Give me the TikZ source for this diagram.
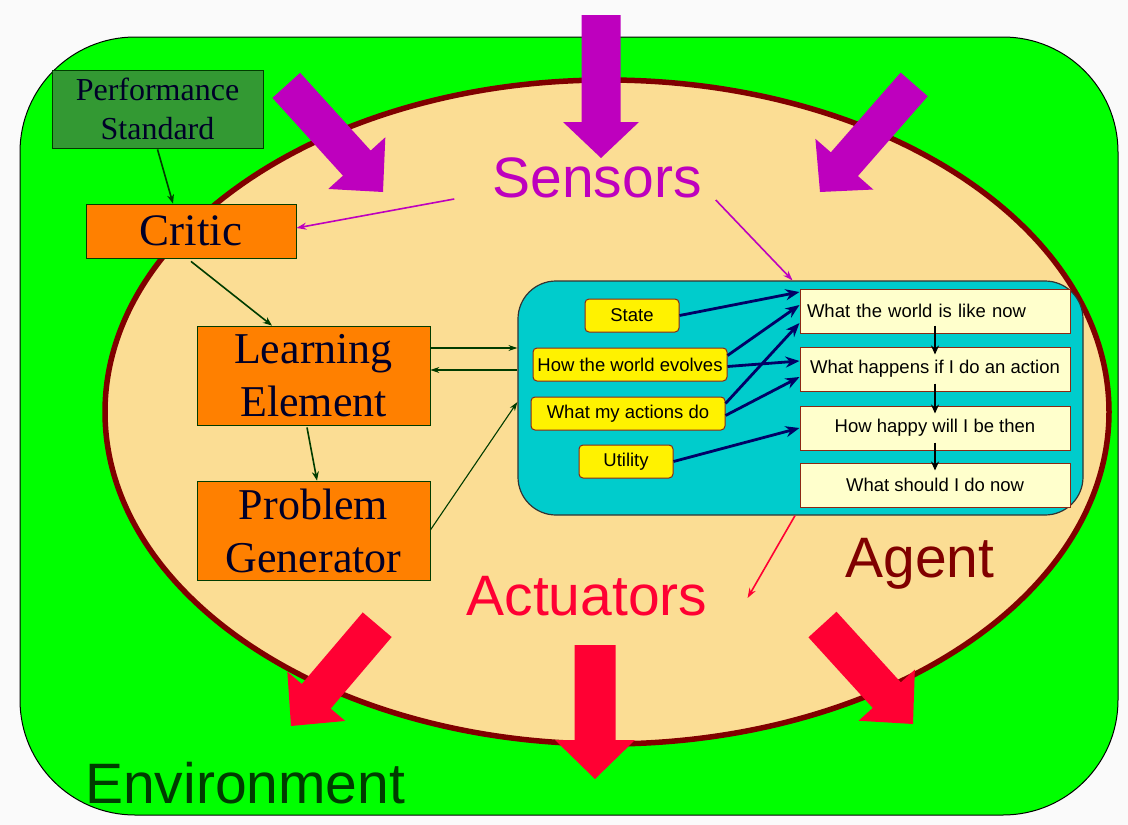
\documentclass[tikz,border=0pt]{standalone}
\usepackage{fontspec}
\setmainfont{Liberation Serif}
\setsansfont{Liberation Sans}
\usetikzlibrary{arrows.meta,calc}

\definecolor{envgreen}{RGB}{0,255,0}
\definecolor{agentfill}{RGB}{251,221,148}
\definecolor{agentrim}{RGB}{128,0,0}
\definecolor{sensmag}{RGB}{190,0,190}
\definecolor{actred}{RGB}{255,0,51}
\definecolor{perfgreen}{RGB}{51,153,51}
\definecolor{learnorange}{RGB}{255,128,0}
\definecolor{cyanpanel}{RGB}{0,204,204}
\definecolor{paleyellow}{RGB}{255,255,204}
\definecolor{inkblue}{RGB}{0,0,102}
\definecolor{inknavy}{RGB}{0,0,40}
\definecolor{darkgreen}{RGB}{0,60,0}
\definecolor{boxrim}{RGB}{140,40,20}
\definecolor{pagebg}{RGB}{250,250,250}

% block arrow: colour, tip, rotation, total length, half shaft width, half head width, head length
\newcommand\fatarrow[7]{%
  \fill[#1,shift={#2},rotate=#3] (0,0) -- (-#7,#6) -- (-#7,#5) -- (-#4,#5)
    -- (-#4,-#5) -- (-#7,-#5) -- (-#7,-#6) -- cycle;}

\tikzset{
  serifbox/.style={draw=darkgreen, line width=0.8pt, text=inknavy, align=center, inner sep=0pt},
  orangebox/.style={serifbox, fill=learnorange, minimum width=233pt, minimum height=99pt,
    font=\fontsize{44}{53}\selectfont},
  leftbox/.style={draw=boxrim, line width=1pt, fill=yellow, rounded corners=4pt,
    minimum height=33pt, inner sep=0pt, font=\sffamily\fontsize{18.5}{20}\selectfont},
  rightbox/.style={draw=boxrim, line width=1pt, fill=paleyellow, minimum width=270pt,
    minimum height=44pt, inner sep=0pt, font=\sffamily\fontsize{18.5}{20}\selectfont},
  greenlink/.style={draw=darkgreen, line width=1.6pt, -{Stealth[length=9pt,width=7pt]}},
  thinlink/.style={draw=darkgreen, line width=1.1pt, -{Stealth[length=9pt,width=6pt]}},
  navylink/.style={draw=inkblue, line width=2.8pt, -{Stealth[length=14pt,width=11pt]}},
  blacklink/.style={draw=black, line width=2.4pt, -{Stealth[length=9pt,width=8pt]}},
  biglabel/.style={font=\sffamily\fontsize{57}{60}\selectfont, inner sep=0pt},
}

\begin{document}
\begin{tikzpicture}[x=1pt,y=-1pt]
  % page
  \fill[pagebg] (0,0) rectangle (1128,825);
  \useasboundingbox (0,0) rectangle (1128,825);

  % environment and agent
  \filldraw[fill=envgreen, draw=black, line width=1pt, rounded corners=115pt]
    (20,37) rectangle (1118,815);
  \filldraw[fill=agentfill, draw=agentrim, line width=5.5pt] (607,412) ellipse [x radius=502, y radius=332];

  % percepts coming in
  \fatarrow{sensmag}{(601,158)}{-90}{143}{19.5}{38}{36}
  \fatarrow{sensmag}{(383,192)}{-47.8}{144}{18.7}{38.5}{39}
  \fatarrow{sensmag}{(820,192)}{-131.2}{143}{18}{38.5}{37}

  % actions going out
  \fatarrow{actred}{(291,726)}{-130.4}{133}{19}{38}{39}
  \fatarrow{actred}{(913,724)}{-47.7}{134.5}{19}{38}{39}
  \fatarrow{actred}{(595,779)}{-90}{134}{20.5}{40}{39}

  % labels
  \node[biglabel, text=sensmag] (sensors) at (597,178) {Sensors};
  \node[biglabel, text=actred] (actuators) at (587,596) {Actuators};
  \node[biglabel, text=agentrim] (agent) at (920,564) {Agent};
  \node[biglabel, text=darkgreen, anchor=base west] (env) at (85,803) {Environment};

  % learning components
  \node[serifbox, fill=perfgreen, minimum width=211pt, minimum height=78pt,
        font=\fontsize{32}{39}\selectfont] (perf) at (157.5,109) {Performance\\Standard};
  \node[serifbox, fill=learnorange, minimum width=210pt, minimum height=54pt,
        font=\fontsize{45}{50}\selectfont] (critic) at (191,231) {Critic};
  \node[orangebox] (learn) at (313.5,375.5) {Learning\\Element};
  \node[orangebox] (prob) at (313.5,530.5) {Problem\\Generator};

  % performance element panel
  \node[draw=black!80, line width=1.2pt, fill=cyanpanel, rounded corners=38pt,
        minimum width=565pt, minimum height=234pt] (panel) at (800.5,398) {};

  \node[leftbox, minimum width=94pt] (state) at (632,315.5) {State};
  \node[leftbox, minimum width=194pt] (evolve) at (630,364.5) {How the world evolves};
  \node[leftbox, minimum width=194pt] (acts) at (628,413.5) {What my actions do};
  \node[leftbox, minimum width=94pt] (utility) at (626,461.5) {Utility};

  \node[rightbox, text width=256pt, align=left] (now) at (935,311) {What the world is like now};
  \node[rightbox] (happens) at (935,369) {What happens if I do an action};
  \node[rightbox] (happy) at (935,428) {How happy will I be then};
  \node[rightbox] (should) at (935,485) {What should I do now};

  % model links
  \draw[navylink] (state.east) -- ([yshift=19pt]now.west);
  \draw[navylink] ([yshift=9pt]evolve.east) -- ([yshift=6pt]now.west);
  \draw[navylink] ([yshift=-2pt]evolve.east) -- ([yshift=8pt]happens.west);
  \draw[navylink] ([yshift=10pt]acts.east) -- ([yshift=-12pt]now.west);
  \draw[navylink] ([yshift=-2pt]acts.east) -- ([yshift=-8pt]happens.west);
  \draw[navylink] (utility.east) -- (happy.west);

  \draw[blacklink] ([yshift=8pt]now.south) -- ([yshift=-8pt]happens.north);
  \draw[blacklink] ([yshift=8pt]happens.south) -- ([yshift=-8pt]happy.north);
  \draw[blacklink] ([yshift=8pt]happy.south) -- ([yshift=-8pt]should.north);

  % learning links
  \draw[greenlink] ([yshift=-1pt]perf.south) -- ([xshift=-18pt]critic.north);
  \draw[greenlink] ([yshift=-3pt]critic.south) -- ([xshift=-41.5pt]learn.north);
  \draw[greenlink] ([xshift=-6.5pt,yshift=-2pt]learn.south) -- ([xshift=3.5pt]prob.north);
  \draw[thinlink] ([yshift=27.5pt]learn.east) -- ([yshift=27.5pt]learn.east -| panel.west);
  \draw[thinlink] ([yshift=5.5pt]learn.east -| panel.west) -- ([yshift=5.5pt]learn.east);
  \draw[thinlink] ([yshift=0.5pt]prob.east) -- ([yshift=-4pt]panel.west);

  % sensor and actuator links
  \draw[sensmag, line width=1.6pt, -{Stealth[length=10pt,width=7pt]}]
    ([shift={(-38pt,-21pt)}]sensors.west) -- ([yshift=3pt]critic.east);
  \draw[sensmag, line width=1.6pt, -{Stealth[length=10pt,width=7pt]}]
    ([shift={(14pt,-22pt)}]sensors.east) -- ([xshift=-7pt]now.west |- panel.north);
  \draw[actred, line width=1.6pt, -{Stealth[length=10pt,width=7pt]}]
    ([xshift=-5.5pt]panel.south) -- ([shift={(40pt,-2pt)}]actuators.east);
\end{tikzpicture}
\end{document}
